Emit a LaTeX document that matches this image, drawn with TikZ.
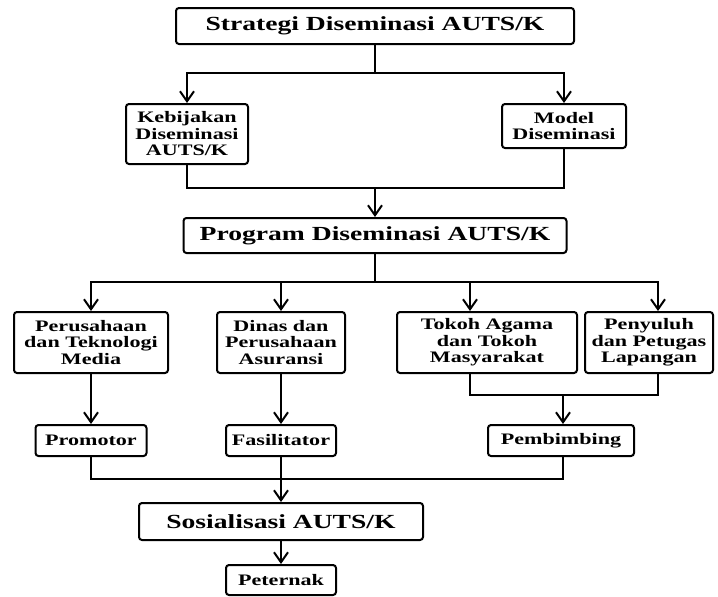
\documentclass[tikz,border=0pt]{standalone}
\usepackage{fontspec}
\setmainfont{Liberation Serif}[FakeStretch=1.38]
\usetikzlibrary{arrows.meta,positioning}

\begin{document}
\begin{tikzpicture}[x=1pt, y=-1pt,
        % teks dasar: tebal
            font=\bfseries\fontsize{16}{16.5}\selectfont,
        % kotak biasa
            box/.style={rectangle, draw, rounded corners=3pt, align=center, inner sep=2pt, line width=2pt},
        % kotak judul (lebar, teks besar)
            bigbox/.style={box, font=\bfseries\fontsize{20}{22}\selectfont, minimum height=36pt},
            arrow/.style={-{Straight Barb[length=10pt,width=14pt]}, line width=2pt},
            line/.style={line width=2pt}
        ]
            \useasboundingbox (0,0) rectangle (718,597);

            % --- STRATEGI ---
            \node[bigbox, minimum width=398pt] (strat) at (375,26) {Strategi Diseminasi AUTS/K};
            \node[box, minimum width=122pt, minimum height=60pt] (kebij) at (187,134) {Kebijakan\\Diseminasi\\AUTS/K};
            \node[box, minimum width=124pt, minimum height=44pt] (model) at (564,126) {Model\\Diseminasi};

            % --- PROGRAM ---
            \node[bigbox, minimum width=383pt, minimum height=35pt] (prog) at (375,235.5) {Program Diseminasi AUTS/K};

            % --- PELAKU ---
            \node[box, minimum width=154pt, minimum height=61pt] (pers) at (91,342.5) {Perusahaan\\dan Teknologi\\Media};
            \node[box, minimum width=128pt, minimum height=61pt] (dinas) at (281,342.5) {Dinas dan\\Perusahaan\\Asuransi};
            \node[box, minimum width=180pt, minimum height=61pt] (tokoh) at (487,342.5) {Tokoh Agama\\dan Tokoh\\Masyarakat};
            \node[box, minimum width=128pt, minimum height=61pt] (peny) at (649,342.5) {Penyuluh\\dan Petugas\\Lapangan};

            % --- PERAN ---
            \node[box, minimum width=111pt, minimum height=31pt] (promotor) at (91,440.5) {Promotor};
            \node[box, minimum width=110pt, minimum height=31pt] (fasil) at (281,440.5) {Fasilitator};
            \node[box, minimum width=146pt, minimum height=31pt] (pemb) at (561,440.5) {Pembimbing};

            % --- SOSIALISASI ---
            \node[bigbox, minimum width=284pt, minimum height=37pt] (sosial) at (281,521.5) {Sosialisasi AUTS/K};
            \node[box, minimum width=110pt, minimum height=30pt] (petern) at (281,580) {Peternak};

            % --- TITIK CABANG ---
            \coordinate (s1) at (375,73);
            \coordinate (j1) at (375,188);
            \coordinate (p1) at (375,282);
            \coordinate (j2) at (563,395);
            \coordinate (j3) at (281,479);

            % --- HUBUNGAN ---
            \draw[line] (strat) -- (s1);
            \draw[arrow] (s1) -| (kebij);
            \draw[arrow] (s1) -| (model);

            \draw[line] (kebij) |- (j1);
            \draw[line] (model) |- (j1);
            \draw[arrow] (j1) -- (prog);

            \draw[line] (prog) -- (p1);
            \draw[arrow] (p1) -| (pers);
            \draw[arrow] (p1) -| (dinas);
            \draw[arrow] (p1) -| ([xshift=-17pt]tokoh.north);
            \draw[arrow] (p1) -| ([xshift=9pt]peny.north);

            \draw[arrow] (pers) -- (promotor);
            \draw[arrow] (dinas) -- (fasil);
            \draw[line] ([xshift=-17pt]tokoh.south) |- (j2);
            \draw[line] ([xshift=9pt]peny.south) |- (j2);
            \draw[arrow] (j2) -- (j2 |- pemb.north);

            \draw[line] (promotor) |- (j3);
            \draw[line] (j2 |- pemb.south) |- (j3);
            \draw[arrow] (fasil) -- (sosial);
            \draw[arrow] (sosial) -- (petern);
        \end{tikzpicture}
\end{document}
